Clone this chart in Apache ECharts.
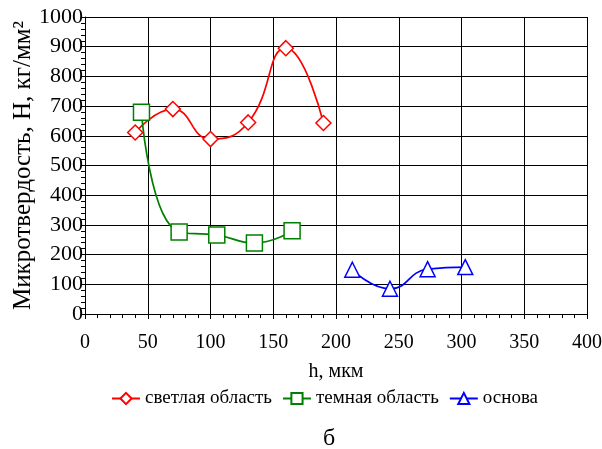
<!DOCTYPE html>
<html><head><meta charset="utf-8">
<script src="https://cdn.jsdelivr.net/npm/echarts@6/dist/echarts.min.js"></script>
<style>html,body{margin:0;padding:0;background:#fff}#c{width:602px;height:449px}</style>
</head><body><div id="c"></div>
<script>
const lightX = [40, 70, 100, 130, 160, 190];
const lightY = [611, 690, 589, 645, 895, 643];
const darkX = [45, 75, 105, 135, 165];
const darkY = [679, 276, 266, 239, 280];
const baseX = [213, 243, 273, 303];
const baseY = [149, 85, 151, 158];
const seriesNames = ['светлая область', 'темная область', 'основа'];
const xTitle = 'h, мкм';
const yTitle = 'Микротвердость, H, кг/мм²';
const caption = 'б';

const pairs = (xs, ys) => xs.map((x, i) => [x, ys[i]]);
const F = 'Liberation Serif';
const chart = echarts.init(document.getElementById('c'));
chart.setOption({
  animation: false,
  backgroundColor: '#fff',
  textStyle: {fontFamily: F, color: '#000'},
  grid: {left: 85, right: 15, top: 17, bottom: 135, containLabel: false, outerBoundsMode: 'none'},
  title: {text: caption, left: 318, top: 422, textStyle: {fontFamily: F, fontSize: 24, fontWeight: 'normal', color: '#000'}},
  legend: {
    top: 384, left: 106, itemWidth: 28, itemHeight: 14, itemGap: 10,
    textStyle: {fontFamily: F, fontSize: 19, color: '#000'},
    data: seriesNames
  },
  xAxis: {
    type: 'value', min: 0, max: 400, interval: 50,
    name: xTitle, nameLocation: 'middle', nameGap: 48, nameMoveOverlap: false,
    nameTextStyle: {fontFamily: F, fontSize: 20, color: '#000'},
    axisLine: {lineStyle: {color: '#000', width: 1}},
    axisTick: {show: true, inside: false, length: 5, lineStyle: {color: '#000'}},
    minorTick: {show: true, splitNumber: 5, length: 4, lineStyle: {color: '#000'}},
    axisLabel: {fontFamily: F, fontSize: 20, color: '#000', margin: 19},
    splitLine: {show: true, lineStyle: {color: '#000', width: 1}}
  },
  yAxis: {
    type: 'value', min: 0, max: 1000, interval: 100,
    name: yTitle, nameLocation: 'middle', nameGap: 49, nameRotate: 90, nameMoveOverlap: false,
    nameTextStyle: {fontFamily: F, fontSize: 25, color: '#000'},
    axisLine: {show: true, lineStyle: {color: '#000', width: 1}},
    axisTick: {show: true, length: 4, lineStyle: {color: '#000'}},
    minorTick: {show: true, splitNumber: 5, length: 4, lineStyle: {color: '#000'}},
    axisLabel: {fontFamily: F, fontSize: 22, color: '#000', margin: 2, formatter: v => String(v)},
    splitLine: {show: true, lineStyle: {color: '#000', width: 1}}
  },
  series: [
    {name: seriesNames[0], type: 'line', smooth: 0.5, data: pairs(lightX, lightY),
     symbol: 'diamond', symbolSize: 15, color: '#ff0000',
     lineStyle: {color: '#ff0000', width: 1.7},
     itemStyle: {color: '#fff', borderColor: '#ff0000', borderWidth: 1.5}},
    {name: seriesNames[1], type: 'line', smooth: 0.5, data: pairs(darkX, darkY),
     symbol: 'rect', symbolSize: 16, color: '#008000',
     lineStyle: {color: '#008000', width: 1.7},
     itemStyle: {color: '#fff', borderColor: '#008000', borderWidth: 1.5}},
    {name: seriesNames[2], type: 'line', smooth: 0.5, data: pairs(baseX, baseY),
     symbol: 'triangle', symbolSize: 15, color: '#0000ff',
     lineStyle: {color: '#0000ff', width: 1.7},
     itemStyle: {color: '#fff', borderColor: '#0000ff', borderWidth: 1.5}}
  ]
});
</script></body></html>
